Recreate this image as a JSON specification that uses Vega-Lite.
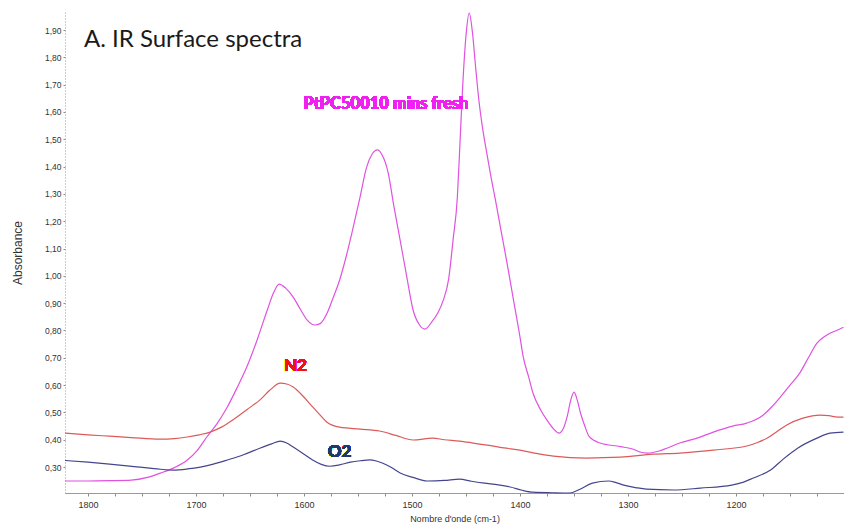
{
  "$schema": "https://vega.github.io/schema/vega-lite/v6.json",
  "width": 779,
  "height": 481,
  "autosize": {"type": "none"},
  "padding": {"left": 65, "top": 12, "right": 0, "bottom": 35},
  "background": "white",
  "config": {
    "view": {"stroke": null},
    "axis": {
      "labelFont": "Liberation Sans",
      "titleFont": "Liberation Sans",
      "labelColor": "#333333",
      "titleColor": "#333333",
      "titleFontWeight": "normal",
      "grid": false,
      "tickColor": "#8a8a8a",
      "domainColor": "#9a9a9a"
    }
  },
  "title": {
    "text": "A. IR Surface spectra",
    "orient": "top",
    "anchor": "start",
    "frame": "group",
    "baseline": "alphabetic",
    "offset": -32,
    "dx": 19,
    "dy": 28,
    "font": "Lato",
    "fontSize": 24,
    "fontWeight": "normal",
    "color": "#1a1a1a"
  },
  "datasets": {
    "spectra": [
      {"sample": "PtPC50010 mins fresh", "wn": 1821.3, "a": 0.249},
      {"sample": "PtPC50010 mins fresh", "wn": 1800, "a": 0.249},
      {"sample": "PtPC50010 mins fresh", "wn": 1780, "a": 0.250},
      {"sample": "PtPC50010 mins fresh", "wn": 1760, "a": 0.252},
      {"sample": "PtPC50010 mins fresh", "wn": 1745, "a": 0.262},
      {"sample": "PtPC50010 mins fresh", "wn": 1733, "a": 0.278},
      {"sample": "PtPC50010 mins fresh", "wn": 1720, "a": 0.298},
      {"sample": "PtPC50010 mins fresh", "wn": 1708, "a": 0.326},
      {"sample": "PtPC50010 mins fresh", "wn": 1699, "a": 0.360},
      {"sample": "PtPC50010 mins fresh", "wn": 1690, "a": 0.410},
      {"sample": "PtPC50010 mins fresh", "wn": 1680, "a": 0.462},
      {"sample": "PtPC50010 mins fresh", "wn": 1671, "a": 0.520},
      {"sample": "PtPC50010 mins fresh", "wn": 1662, "a": 0.590},
      {"sample": "PtPC50010 mins fresh", "wn": 1653, "a": 0.666},
      {"sample": "PtPC50010 mins fresh", "wn": 1643, "a": 0.770},
      {"sample": "PtPC50010 mins fresh", "wn": 1634, "a": 0.875},
      {"sample": "PtPC50010 mins fresh", "wn": 1628, "a": 0.940},
      {"sample": "PtPC50010 mins fresh", "wn": 1623, "a": 0.970},
      {"sample": "PtPC50010 mins fresh", "wn": 1617, "a": 0.955},
      {"sample": "PtPC50010 mins fresh", "wn": 1610, "a": 0.922},
      {"sample": "PtPC50010 mins fresh", "wn": 1603, "a": 0.875},
      {"sample": "PtPC50010 mins fresh", "wn": 1597, "a": 0.838},
      {"sample": "PtPC50010 mins fresh", "wn": 1590, "a": 0.820},
      {"sample": "PtPC50010 mins fresh", "wn": 1585, "a": 0.825},
      {"sample": "PtPC50010 mins fresh", "wn": 1579, "a": 0.860},
      {"sample": "PtPC50010 mins fresh", "wn": 1573, "a": 0.920},
      {"sample": "PtPC50010 mins fresh", "wn": 1567, "a": 0.985},
      {"sample": "PtPC50010 mins fresh", "wn": 1561, "a": 1.070},
      {"sample": "PtPC50010 mins fresh", "wn": 1555, "a": 1.168},
      {"sample": "PtPC50010 mins fresh", "wn": 1548, "a": 1.290},
      {"sample": "PtPC50010 mins fresh", "wn": 1542, "a": 1.398},
      {"sample": "PtPC50010 mins fresh", "wn": 1537, "a": 1.445},
      {"sample": "PtPC50010 mins fresh", "wn": 1532, "a": 1.461},
      {"sample": "PtPC50010 mins fresh", "wn": 1528, "a": 1.445},
      {"sample": "PtPC50010 mins fresh", "wn": 1522, "a": 1.376},
      {"sample": "PtPC50010 mins fresh", "wn": 1517, "a": 1.260},
      {"sample": "PtPC50010 mins fresh", "wn": 1511, "a": 1.131},
      {"sample": "PtPC50010 mins fresh", "wn": 1505, "a": 1.000},
      {"sample": "PtPC50010 mins fresh", "wn": 1499, "a": 0.875},
      {"sample": "PtPC50010 mins fresh", "wn": 1493, "a": 0.820},
      {"sample": "PtPC50010 mins fresh", "wn": 1488, "a": 0.805},
      {"sample": "PtPC50010 mins fresh", "wn": 1482, "a": 0.830},
      {"sample": "PtPC50010 mins fresh", "wn": 1476, "a": 0.865},
      {"sample": "PtPC50010 mins fresh", "wn": 1471, "a": 0.911},
      {"sample": "PtPC50010 mins fresh", "wn": 1466, "a": 0.990},
      {"sample": "PtPC50010 mins fresh", "wn": 1462, "a": 1.131},
      {"sample": "PtPC50010 mins fresh", "wn": 1458, "a": 1.289},
      {"sample": "PtPC50010 mins fresh", "wn": 1456, "a": 1.450},
      {"sample": "PtPC50010 mins fresh", "wn": 1453, "a": 1.700},
      {"sample": "PtPC50010 mins fresh", "wn": 1450, "a": 1.880},
      {"sample": "PtPC50010 mins fresh", "wn": 1447, "a": 1.962},
      {"sample": "PtPC50010 mins fresh", "wn": 1444, "a": 1.890},
      {"sample": "PtPC50010 mins fresh", "wn": 1441, "a": 1.760},
      {"sample": "PtPC50010 mins fresh", "wn": 1438, "a": 1.640},
      {"sample": "PtPC50010 mins fresh", "wn": 1435, "a": 1.550},
      {"sample": "PtPC50010 mins fresh", "wn": 1431, "a": 1.455},
      {"sample": "PtPC50010 mins fresh", "wn": 1427, "a": 1.365},
      {"sample": "PtPC50010 mins fresh", "wn": 1422, "a": 1.262},
      {"sample": "PtPC50010 mins fresh", "wn": 1418, "a": 1.175},
      {"sample": "PtPC50010 mins fresh", "wn": 1412, "a": 1.047},
      {"sample": "PtPC50010 mins fresh", "wn": 1406.5, "a": 0.922},
      {"sample": "PtPC50010 mins fresh", "wn": 1400, "a": 0.776},
      {"sample": "PtPC50010 mins fresh", "wn": 1397, "a": 0.703},
      {"sample": "PtPC50010 mins fresh", "wn": 1392, "a": 0.630},
      {"sample": "PtPC50010 mins fresh", "wn": 1388, "a": 0.571},
      {"sample": "PtPC50010 mins fresh", "wn": 1381, "a": 0.510},
      {"sample": "PtPC50010 mins fresh", "wn": 1375, "a": 0.472},
      {"sample": "PtPC50010 mins fresh", "wn": 1369, "a": 0.440},
      {"sample": "PtPC50010 mins fresh", "wn": 1364, "a": 0.424},
      {"sample": "PtPC50010 mins fresh", "wn": 1360, "a": 0.440},
      {"sample": "PtPC50010 mins fresh", "wn": 1356, "a": 0.490},
      {"sample": "PtPC50010 mins fresh", "wn": 1353, "a": 0.545},
      {"sample": "PtPC50010 mins fresh", "wn": 1350, "a": 0.574},
      {"sample": "PtPC50010 mins fresh", "wn": 1347, "a": 0.545},
      {"sample": "PtPC50010 mins fresh", "wn": 1344, "a": 0.498},
      {"sample": "PtPC50010 mins fresh", "wn": 1340, "a": 0.450},
      {"sample": "PtPC50010 mins fresh", "wn": 1336, "a": 0.412},
      {"sample": "PtPC50010 mins fresh", "wn": 1326, "a": 0.388},
      {"sample": "PtPC50010 mins fresh", "wn": 1307, "a": 0.375},
      {"sample": "PtPC50010 mins fresh", "wn": 1295, "a": 0.365},
      {"sample": "PtPC50010 mins fresh", "wn": 1289, "a": 0.355},
      {"sample": "PtPC50010 mins fresh", "wn": 1282, "a": 0.351},
      {"sample": "PtPC50010 mins fresh", "wn": 1272, "a": 0.358},
      {"sample": "PtPC50010 mins fresh", "wn": 1264, "a": 0.369},
      {"sample": "PtPC50010 mins fresh", "wn": 1252, "a": 0.388},
      {"sample": "PtPC50010 mins fresh", "wn": 1236, "a": 0.406},
      {"sample": "PtPC50010 mins fresh", "wn": 1221, "a": 0.428},
      {"sample": "PtPC50010 mins fresh", "wn": 1203, "a": 0.450},
      {"sample": "PtPC50010 mins fresh", "wn": 1190, "a": 0.461},
      {"sample": "PtPC50010 mins fresh", "wn": 1175, "a": 0.490},
      {"sample": "PtPC50010 mins fresh", "wn": 1167, "a": 0.520},
      {"sample": "PtPC50010 mins fresh", "wn": 1159, "a": 0.556},
      {"sample": "PtPC50010 mins fresh", "wn": 1150, "a": 0.600},
      {"sample": "PtPC50010 mins fresh", "wn": 1141, "a": 0.644},
      {"sample": "PtPC50010 mins fresh", "wn": 1133, "a": 0.700},
      {"sample": "PtPC50010 mins fresh", "wn": 1125, "a": 0.754},
      {"sample": "PtPC50010 mins fresh", "wn": 1119, "a": 0.775},
      {"sample": "PtPC50010 mins fresh", "wn": 1113, "a": 0.790},
      {"sample": "PtPC50010 mins fresh", "wn": 1107, "a": 0.800},
      {"sample": "PtPC50010 mins fresh", "wn": 1100.5, "a": 0.812},

      {"sample": "N2", "wn": 1821.3, "a": 0.424},
      {"sample": "N2", "wn": 1800, "a": 0.418},
      {"sample": "N2", "wn": 1780, "a": 0.413},
      {"sample": "N2", "wn": 1760, "a": 0.408},
      {"sample": "N2", "wn": 1733, "a": 0.402},
      {"sample": "N2", "wn": 1720, "a": 0.404},
      {"sample": "N2", "wn": 1708, "a": 0.410},
      {"sample": "N2", "wn": 1697, "a": 0.418},
      {"sample": "N2", "wn": 1687, "a": 0.428},
      {"sample": "N2", "wn": 1676, "a": 0.447},
      {"sample": "N2", "wn": 1666, "a": 0.472},
      {"sample": "N2", "wn": 1653, "a": 0.510},
      {"sample": "N2", "wn": 1641, "a": 0.545},
      {"sample": "N2", "wn": 1632, "a": 0.580},
      {"sample": "N2", "wn": 1622, "a": 0.607},
      {"sample": "N2", "wn": 1616, "a": 0.604},
      {"sample": "N2", "wn": 1610, "a": 0.593},
      {"sample": "N2", "wn": 1601, "a": 0.560},
      {"sample": "N2", "wn": 1592, "a": 0.520},
      {"sample": "N2", "wn": 1585, "a": 0.490},
      {"sample": "N2", "wn": 1579, "a": 0.465},
      {"sample": "N2", "wn": 1567, "a": 0.446},
      {"sample": "N2", "wn": 1548, "a": 0.439},
      {"sample": "N2", "wn": 1530, "a": 0.432},
      {"sample": "N2", "wn": 1515, "a": 0.416},
      {"sample": "N2", "wn": 1499, "a": 0.399},
      {"sample": "N2", "wn": 1481, "a": 0.406},
      {"sample": "N2", "wn": 1470, "a": 0.400},
      {"sample": "N2", "wn": 1456, "a": 0.395},
      {"sample": "N2", "wn": 1449, "a": 0.391},
      {"sample": "N2", "wn": 1430, "a": 0.380},
      {"sample": "N2", "wn": 1415, "a": 0.370},
      {"sample": "N2", "wn": 1400, "a": 0.362},
      {"sample": "N2", "wn": 1385, "a": 0.350},
      {"sample": "N2", "wn": 1369, "a": 0.340},
      {"sample": "N2", "wn": 1338, "a": 0.333},
      {"sample": "N2", "wn": 1307, "a": 0.336},
      {"sample": "N2", "wn": 1277, "a": 0.347},
      {"sample": "N2", "wn": 1252, "a": 0.351},
      {"sample": "N2", "wn": 1221, "a": 0.362},
      {"sample": "N2", "wn": 1190, "a": 0.377},
      {"sample": "N2", "wn": 1180, "a": 0.390},
      {"sample": "N2", "wn": 1171, "a": 0.406},
      {"sample": "N2", "wn": 1162, "a": 0.430},
      {"sample": "N2", "wn": 1153, "a": 0.454},
      {"sample": "N2", "wn": 1138, "a": 0.479},
      {"sample": "N2", "wn": 1122, "a": 0.490},
      {"sample": "N2", "wn": 1114, "a": 0.488},
      {"sample": "N2", "wn": 1106, "a": 0.483},
      {"sample": "N2", "wn": 1100.5, "a": 0.483},

      {"sample": "O2", "wn": 1821.3, "a": 0.324},
      {"sample": "O2", "wn": 1800, "a": 0.318},
      {"sample": "O2", "wn": 1780, "a": 0.311},
      {"sample": "O2", "wn": 1755, "a": 0.301},
      {"sample": "O2", "wn": 1733, "a": 0.292},
      {"sample": "O2", "wn": 1721, "a": 0.289},
      {"sample": "O2", "wn": 1708, "a": 0.293},
      {"sample": "O2", "wn": 1696, "a": 0.300},
      {"sample": "O2", "wn": 1684, "a": 0.311},
      {"sample": "O2", "wn": 1671, "a": 0.326},
      {"sample": "O2", "wn": 1656, "a": 0.345},
      {"sample": "O2", "wn": 1641, "a": 0.369},
      {"sample": "O2", "wn": 1630, "a": 0.385},
      {"sample": "O2", "wn": 1622, "a": 0.395},
      {"sample": "O2", "wn": 1616, "a": 0.388},
      {"sample": "O2", "wn": 1610, "a": 0.373},
      {"sample": "O2", "wn": 1600, "a": 0.347},
      {"sample": "O2", "wn": 1592, "a": 0.326},
      {"sample": "O2", "wn": 1584, "a": 0.310},
      {"sample": "O2", "wn": 1576, "a": 0.303},
      {"sample": "O2", "wn": 1567, "a": 0.308},
      {"sample": "O2", "wn": 1557, "a": 0.318},
      {"sample": "O2", "wn": 1548, "a": 0.323},
      {"sample": "O2", "wn": 1539, "a": 0.326},
      {"sample": "O2", "wn": 1533, "a": 0.322},
      {"sample": "O2", "wn": 1527, "a": 0.314},
      {"sample": "O2", "wn": 1519, "a": 0.298},
      {"sample": "O2", "wn": 1511, "a": 0.278},
      {"sample": "O2", "wn": 1499, "a": 0.262},
      {"sample": "O2", "wn": 1486, "a": 0.249},
      {"sample": "O2", "wn": 1470, "a": 0.251},
      {"sample": "O2", "wn": 1456, "a": 0.256},
      {"sample": "O2", "wn": 1445, "a": 0.248},
      {"sample": "O2", "wn": 1433, "a": 0.241},
      {"sample": "O2", "wn": 1420, "a": 0.235},
      {"sample": "O2", "wn": 1409, "a": 0.227},
      {"sample": "O2", "wn": 1398, "a": 0.215},
      {"sample": "O2", "wn": 1388, "a": 0.208},
      {"sample": "O2", "wn": 1370, "a": 0.206},
      {"sample": "O2", "wn": 1354, "a": 0.205},
      {"sample": "O2", "wn": 1345, "a": 0.218},
      {"sample": "O2", "wn": 1333, "a": 0.241},
      {"sample": "O2", "wn": 1318, "a": 0.249},
      {"sample": "O2", "wn": 1311, "a": 0.243},
      {"sample": "O2", "wn": 1304, "a": 0.234},
      {"sample": "O2", "wn": 1293, "a": 0.225},
      {"sample": "O2", "wn": 1283, "a": 0.219},
      {"sample": "O2", "wn": 1258, "a": 0.216},
      {"sample": "O2", "wn": 1233, "a": 0.223},
      {"sample": "O2", "wn": 1204, "a": 0.234},
      {"sample": "O2", "wn": 1193, "a": 0.245},
      {"sample": "O2", "wn": 1184, "a": 0.260},
      {"sample": "O2", "wn": 1168, "a": 0.289},
      {"sample": "O2", "wn": 1156, "a": 0.330},
      {"sample": "O2", "wn": 1143, "a": 0.369},
      {"sample": "O2", "wn": 1125, "a": 0.406},
      {"sample": "O2", "wn": 1113, "a": 0.424},
      {"sample": "O2", "wn": 1100.5, "a": 0.428}
    ]
  },
  "data": {"name": "spectra"},
  "encoding": {
    "x": {
      "field": "wn",
      "type": "quantitative",
      "scale": {"domain": [1821.3, 1100], "nice": false, "zero": false},
      "axis": {
        "title": "Nombre d'onde (cm-1)",
        "titleFontSize": 9,
        "titlePadding": 5,
        "values": [1800, 1775, 1750, 1725, 1700, 1675, 1650, 1625, 1600, 1575, 1550, 1525, 1500, 1475, 1450, 1425, 1400, 1375, 1350, 1325, 1300, 1275, 1250, 1225, 1200, 1175, 1150, 1125, 1100],
        "labelExpr": "datum.value % 100 === 0 && datum.value > 1100 ? format(datum.value, 'd') : ''",
        "labelFontSize": 9,
        "labelPadding": 4,
        "tickSize": 3,
        "labelFlush": false
      }
    },
    "y": {
      "field": "a",
      "type": "quantitative",
      "scale": {"domain": [0.205, 1.966], "nice": false, "zero": false},
      "axis": {
        "title": "Absorbance",
        "titleFontSize": 12,
        "titlePadding": 20,
        "values": [0.3, 0.4, 0.5, 0.6, 0.7, 0.8, 0.9, 1.0, 1.1, 1.2, 1.3, 1.4, 1.5, 1.6, 1.7, 1.8, 1.9],
        "labelExpr": "replace(format(datum.value, '.2f'), '.', ',')",
        "labelFontSize": 8.5,
        "labelPadding": 2,
        "tickSize": 2,
        "domainDash": [1, 2],
        "labelFlush": false
      }
    }
  },
  "layer": [
    {
      "mark": {"type": "line", "strokeWidth": 1.2, "interpolate": "monotone"},
      "encoding": {
        "color": {
          "field": "sample",
          "type": "nominal",
          "scale": {
            "domain": ["PtPC50010 mins fresh", "N2", "O2"],
            "range": ["#e052e0", "#dc5a5a", "#45458e"]
          },
          "legend": null
        }
      }
    },
    {
      "mark": {"type": "text", "font": "Lato", "fontWeight": "bold", "fontSize": 16.5, "fill": "#f020f0", "align": "center", "baseline": "middle"},
      "encoding": {
        "x": {"datum": 1524},
        "y": {"datum": 1.629},
        "text": {"value": "PtPC50010 mins fresh"}
      }
    },
    {
      "mark": {"type": "text", "font": "Lato", "fontWeight": "bold", "fontSize": 17, "fill": "#ec1515", "align": "center", "baseline": "middle"},
      "encoding": {
        "x": {"datum": 1608},
        "y": {"datum": 0.67},
        "text": {"value": "N2"}
      }
    },
    {
      "mark": {"type": "text", "font": "Lato", "fontWeight": "bold", "fontSize": 17, "fill": "#1f3a68", "align": "center", "baseline": "middle"},
      "encoding": {
        "x": {"datum": 1567},
        "y": {"datum": 0.355},
        "text": {"value": "O2"}
      }
    }
  ]
}
